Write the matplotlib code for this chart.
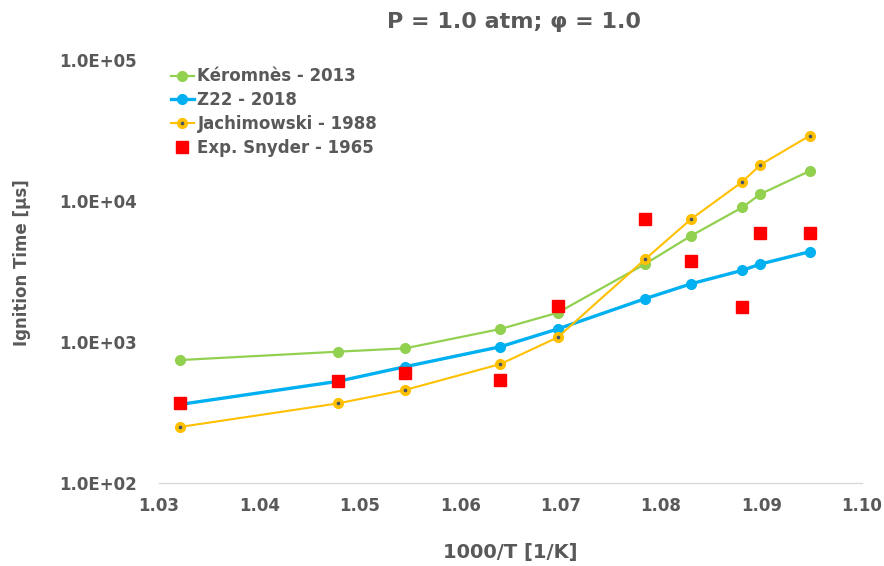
import matplotlib
matplotlib.use('Agg')
import matplotlib.pyplot as plt

# données
inv_T = [1.0321, 1.0478, 1.0545, 1.0640, 1.0697, 1.0784, 1.0830, 1.0881, 1.0899, 1.0948]
keromnes = [745, 854, 902, 1237, 1614, 3573, 5675, 9022, 11212, 16320]
z22 = [361, 526, 668, 926, 1237, 2028, 2589, 3225, 3573, 4369]
jachimowski = [250, 367, 457, 698, 1079, 3861, 7452, 13700, 18090, 29040]
snyder = [367, 526, 600, 538, 1815, 7490, 3753, 1763, 5960, 5960]

labels = ['Kéromnès - 2013', 'Z22 - 2018', 'Jachimowski - 1988', 'Exp. Snyder - 1965']
gris = '#595959'

plt.rcParams['font.family'] = ['DejaVu Sans']
plt.rcParams['font.weight'] = 'bold'

fig = plt.figure(figsize=(8.84, 5.66), dpi=100)
ax = fig.add_axes([0.180, 0.1466, 0.795, 0.7474])

l1, = ax.plot(inv_T, keromnes, color='#92D050', lw=1.6, marker='o', ms=7, zorder=3)
l2, = ax.plot(inv_T, z22, color='#00B0F0', lw=2.4, marker='o', ms=7, zorder=3)
l3, = ax.plot(inv_T, jachimowski, color='#FFC000', lw=1.5, marker='o', ms=7, zorder=3)
l3b, = ax.plot(inv_T, jachimowski, ls='none', marker='o', ms=1.6, color='#44546A', zorder=4)
l4, = ax.plot(inv_T, snyder, ls='none', marker='s', ms=8, color='#FF0000', zorder=5)

ax.set_yscale('log')
ax.set_xlim(1.03, 1.10)
ax.set_ylim(100, 100000)
ax.set_xticks([1.03, 1.04, 1.05, 1.06, 1.07, 1.08, 1.09, 1.10])
ax.set_xticklabels(['1.03', '1.04', '1.05', '1.06', '1.07', '1.08', '1.09', '1.10'])
ax.set_yticks([100, 1000, 10000, 100000])
ax.set_yticklabels(['1.0E+02', '1.0E+03', '1.0E+04', '1.0E+05'])
ax.minorticks_off()
ax.tick_params(axis='both', length=0, labelsize=12, labelcolor=gris)
ax.tick_params(axis='x', pad=10)
ax.tick_params(axis='y', pad=16)

for s in ['top', 'right', 'left']:
    ax.spines[s].set_visible(False)
ax.spines['bottom'].set_color('#D9D9D9')
ax.spines['bottom'].set_linewidth(1)

ax.set_xlabel('1000/T [1/K]', fontsize=14, color=gris, fontweight='bold', labelpad=20)
ax.set_ylabel('Ignition Time [µs]', fontsize=12, color=gris, fontweight='bold')
ax.yaxis.set_label_coords(-0.182, 0.52)
fig.text(0.581, 0.962, 'P = 1.0 atm; φ = 1.0', fontsize=16, color=gris, fontweight='bold',
         ha='center', va='center')

leg = ax.legend([l1, l2, (l3, l3b), l4], labels, loc='upper left', bbox_to_anchor=(0.0, 1.01),
                frameon=False, fontsize=12, handlelength=1.4, handletextpad=0.2,
                labelspacing=0.35, borderaxespad=0.3)
for t in leg.get_texts():
    t.set_color(gris)
    t.set_fontweight('bold')

plt.savefig('out.png', dpi=100)
